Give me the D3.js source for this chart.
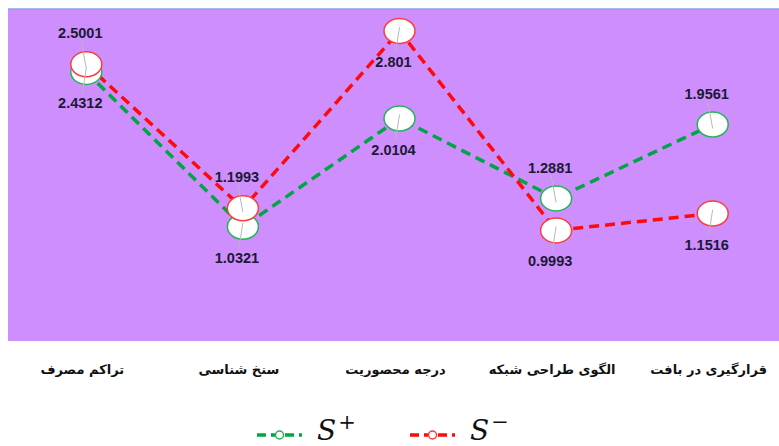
<!DOCTYPE html>
<html>
<head>
<meta charset="utf-8">
<script src="https://cdn.jsdelivr.net/npm/d3@7"></script>
<style>
  html, body { margin: 0; padding: 0; background: #fff; }
  svg { display: block; }
</style>
</head>
<body>
<div id="chart"></div>
<script>
// S+ / S- distances per planning indicator
const categories = ['تراکم مصرف', 'سنخ شناسی', 'درجه محصوریت', 'الگوی طراحی شبکه', 'قرارگیری در بافت']
const sPlus = [2.4312, 1.0321, 2.0104, 1.2881, 1.9561]
const sMinus = [2.5001, 1.1993, 2.801, 0.9993, 1.1516]
const plusLabelSide = ['below', 'below', 'below', 'above', 'above']
const minusLabelSide = ['above', 'above', 'below', 'below', 'below']

const W = 779
const H = 446
const plot = { left: 8, top: 9, right: 791, bottom: 341 }

const COLORS = {
  bg: '#ce8efd',
  plus: '#00a544',
  plusEdge: '#22b45a',
  minus: '#ff0a0a',
  minusEdge: '#ff3b3b',
  label: '#1a1a34',
  leader: '#b8b8b8',
}

const svg = d3.select('#chart').append('svg')
  .attr('width', W)
  .attr('height', H)

const x = d3.scaleBand().domain(categories).range([plot.left, plot.right]).padding(0)
const cx = (i) => x(categories[i]) + x.bandwidth() / 2
const y = d3.scaleLinear().domain([0, 3]).range([plot.bottom, plot.top])

svg.append('rect')
  .attr('x', plot.left)
  .attr('y', plot.top)
  .attr('width', W - plot.left)
  .attr('height', plot.bottom - plot.top)
  .attr('fill', COLORS.bg)

svg.append('line')
  .attr('x1', plot.left).attr('x2', W)
  .attr('y1', plot.top).attr('y2', plot.top)
  .attr('stroke', '#86a6e6')
  .attr('stroke-width', 1.5)

const series = [
  { values: sPlus, side: plusLabelSide, line: COLORS.plus, edge: COLORS.plusEdge },
  { values: sMinus, side: minusLabelSide, line: COLORS.minus, edge: COLORS.minusEdge },
]

const line = d3.line().x((d, i) => cx(i)).y((d) => y(d))

series.forEach((s) => {
  svg.append('path')
    .datum(s.values)
    .attr('d', line)
    .attr('fill', 'none')
    .attr('stroke', s.line)
    .attr('stroke-width', 3.5)
    .attr('stroke-dasharray', '10 6')
})

series.forEach((s) => {
  svg.append('g')
    .selectAll('ellipse')
    .data(s.values)
    .join('ellipse')
    .attr('cx', (d, i) => cx(i))
    .attr('cy', (d) => y(d))
    .attr('rx', 15.5)
    .attr('ry', 12.5)
    .attr('fill', '#fff')
    .attr('stroke', s.edge)
    .attr('stroke-width', 1.5)
})

// data labels with small leader lines into the markers
series.forEach((s) => {
  const g = svg.append('g')
  s.values.forEach((v, i) => {
    const up = s.side[i] === 'above'
    const lx = cx(i) - 6
    const ly = y(v) + (up ? -31 : 31)
    g.append('line')
      .attr('x1', up ? lx + 1 : lx + 2)
      .attr('y1', up ? ly + 8 : ly - 9)
      .attr('x2', cx(i))
      .attr('y2', y(v) + (up ? 4 : -4))
      .attr('stroke', COLORS.leader)
      .attr('stroke-width', 1)
    g.append('text')
      .attr('x', lx)
      .attr('y', ly)
      .attr('dy', '0.35em')
      .attr('text-anchor', 'middle')
      .attr('font-family', 'Liberation Sans, Arial, sans-serif')
      .attr('font-weight', 'bold')
      .attr('font-size', '14.5px')
      .attr('fill', COLORS.label)
      .text(String(v))
  })
})

svg.append('g')
  .selectAll('text')
  .data(categories)
  .join('text')
  .attr('x', (d) => x(d) + x.bandwidth() / 2 - 4)
  .attr('y', 369)
  .attr('dy', '0.35em')
  .attr('text-anchor', 'middle')
  .attr('direction', 'rtl')
  .attr('font-family', 'DejaVu Sans, sans-serif')
  .attr('font-weight', 'bold')
  .attr('font-size', '13px')
  .attr('fill', '#111')
  .text((d) => d)

// legend
const legend = [
  { x: 257, color: COLORS.plus, edge: COLORS.plusEdge, sign: '+' },
  { x: 410, color: COLORS.minus, edge: COLORS.minusEdge, sign: '−' },
]

const lg = svg.append('g').selectAll('g').data(legend).join('g')
  .attr('transform', (d) => `translate(${d.x},435)`)

lg.append('line')
  .attr('x1', 0).attr('x2', 45)
  .attr('stroke', (d) => d.color)
  .attr('stroke-width', 3.5)
  .attr('stroke-dasharray', '9 5')

lg.append('circle')
  .attr('cx', 22.5)
  .attr('r', 4)
  .attr('fill', '#fff')
  .attr('stroke', (d) => d.edge)
  .attr('stroke-width', 1.5)

const lt = lg.append('text')
  .attr('x', 60)
  .attr('y', 5)
  .attr('font-family', 'DejaVu Serif, serif')
  .attr('font-style', 'italic')
  .attr('font-size', '28px')
  .attr('fill', '#111')

lt.append('tspan').text('S')
lt.append('tspan')
  .attr('dx', 2)
  .attr('dy', -11)
  .attr('font-style', 'normal')
  .attr('font-size', '21px')
  .text((d) => d.sign)
</script>
</body>
</html>
